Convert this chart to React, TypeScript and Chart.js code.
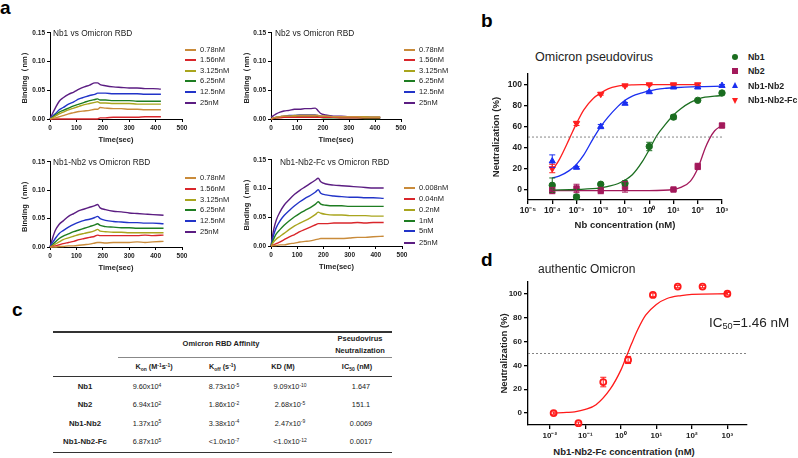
import React, { useEffect, useRef } from "react";
import { Chart, registerables } from "chart.js";

Chart.register(...registerables);

const FONT = "'Liberation Sans', Arial, Helvetica, sans-serif";
Chart.defaults.font.family = FONT;
Chart.defaults.color = "#222";

// ---------------- Panel a : sensorgrams ----------------
const T_TOP = [0, 10, 20, 35, 50, 70, 90, 110, 130, 150, 170, 180, 190, 210, 240, 270, 300, 330, 360, 390, 420];
const T_BOTTOM = [0, 10, 20, 35, 50, 70, 90, 110, 130, 150, 170, 180, 190, 210, 240, 270, 300, 330, 360, 390, 430];

const A_CONC = ["0.78nM", "1.56nM", "3.125nM", "6.25nM", "12.5nM", "25nM"];
const FC_CONC = ["0.008nM", "0.04nM", "0.2nM", "1nM", "5nM", "25nM"];
const A_COLORS = ["#c98b3a", "#d9262b", "#a9a51e", "#1e7d22", "#2234c8", "#5b1d82"];
const A_XTICKS = [0, 100, 200, 300, 400, 500];
const A_YTICKS = [0, 0.05, 0.1, 0.15];

const NB1_078 = [0, 0.001, 0.002, 0.004, 0.006, 0.009, 0.011, 0.013, 0.014, 0.015, 0.017, 0.017, 0.02, 0.019, 0.018, 0.018, 0.017, 0.017, 0.016, 0.016, 0.016];
const NB1_156 = [0, 0, 0, 0, 0, 0, 0, 0, 0, 0, 0, 0, 0.002, 0.002, 0.003, 0.003, 0.003, 0.003, 0.004, 0.004, 0.004];
const NB1_3125 = [0, 0.002, 0.005, 0.009, 0.012, 0.016, 0.019, 0.022, 0.025, 0.027, 0.029, 0.03, 0.028, 0.028, 0.027, 0.027, 0.027, 0.026, 0.026, 0.026, 0.026];
const NB1_625 = [0, 0.003, 0.007, 0.012, 0.015, 0.019, 0.023, 0.026, 0.029, 0.032, 0.034, 0.035, 0.033, 0.033, 0.032, 0.032, 0.032, 0.031, 0.031, 0.031, 0.031];
const NB1_125 = [0, 0.005, 0.009, 0.016, 0.02, 0.026, 0.03, 0.035, 0.038, 0.041, 0.043, 0.045, 0.045, 0.045, 0.044, 0.044, 0.044, 0.044, 0.043, 0.043, 0.043];
const NB1_25 = [0, 0.01, 0.019, 0.031, 0.037, 0.043, 0.047, 0.052, 0.056, 0.059, 0.063, 0.063, 0.06, 0.058, 0.056, 0.055, 0.054, 0.054, 0.053, 0.053, 0.052];

const NB2_078 = [0, 0.002, 0.003, 0.004, 0.005, 0.005, 0.005, 0.006, 0.006, 0.006, 0.006, 0.006, 0.005, 0.005, 0.004, 0.004, 0.004, 0.004, 0.003, 0.003, 0.003];
const NB2_156 = [0, 0.001, 0.002, 0.002, 0.003, 0.003, 0.003, 0.003, 0.003, 0.003, 0.003, 0.003, 0.003, 0.003, 0.003, 0.002, 0.002, 0.002, 0.002, 0.002, 0.002];
const NB2_3125 = [0, 0.002, 0.003, 0.004, 0.005, 0.005, 0.006, 0.006, 0.006, 0.006, 0.006, 0.006, 0.005, 0.005, 0.004, 0.004, 0.004, 0.004, 0.004, 0.003, 0.003];
const NB2_625 = [0, 0.001, 0.002, 0.003, 0.004, 0.004, 0.004, 0.005, 0.005, 0.005, 0.005, 0.004, 0.003, 0.002, 0.002, 0.002, 0.002, 0.002, 0.001, 0.001, 0.001];
const NB2_125 = [0, 0.002, 0.003, 0.004, 0.005, 0.006, 0.006, 0.007, 0.007, 0.007, 0.007, 0.006, 0.005, 0.004, 0.004, 0.003, 0.003, 0.003, 0.003, 0.002, 0.002];
const NB2_25 = [0.003, 0.006, 0.009, 0.012, 0.014, 0.015, 0.017, 0.017, 0.018, 0.018, 0.019, 0.015, 0.01, 0.007, 0.005, 0.005, 0.004, 0.004, 0.003, 0.003, 0.003];

const NB12_078 = [0, 0, 0, 0.001, 0.001, 0.002, 0.002, 0.003, 0.004, 0.005, 0.007, 0.008, 0.008, 0.007, 0.008, 0.008, 0.008, 0.009, 0.008, 0.009, 0.01];
const NB12_156 = [0, 0.001, 0.002, 0.004, 0.006, 0.008, 0.01, 0.013, 0.015, 0.017, 0.019, 0.021, 0.02, 0.02, 0.02, 0.02, 0.02, 0.02, 0.021, 0.02, 0.021];
const NB12_3125 = [0, 0.002, 0.005, 0.009, 0.013, 0.016, 0.019, 0.022, 0.024, 0.026, 0.029, 0.031, 0.028, 0.027, 0.026, 0.026, 0.025, 0.025, 0.025, 0.025, 0.025];
const NB12_625 = [0, 0.004, 0.009, 0.015, 0.019, 0.023, 0.027, 0.03, 0.033, 0.036, 0.039, 0.041, 0.038, 0.036, 0.035, 0.034, 0.034, 0.033, 0.033, 0.033, 0.033];
const NB12_125 = [0, 0.008, 0.015, 0.024, 0.029, 0.035, 0.04, 0.044, 0.047, 0.049, 0.052, 0.054, 0.05, 0.047, 0.045, 0.044, 0.043, 0.043, 0.042, 0.042, 0.041];
const NB12_25 = [0, 0.016, 0.029, 0.04, 0.046, 0.054, 0.059, 0.064, 0.067, 0.07, 0.073, 0.075, 0.069, 0.066, 0.063, 0.062, 0.06, 0.059, 0.058, 0.057, 0.056];

const FC_0008 = [0, 0.001, 0.001, 0.002, 0.002, 0.004, 0.005, 0.007, 0.008, 0.009, 0.011, 0.012, 0.013, 0.013, 0.013, 0.013, 0.014, 0.015, 0.015, 0.016, 0.017];
const FC_004 = [0, 0.002, 0.004, 0.007, 0.011, 0.016, 0.02, 0.025, 0.029, 0.033, 0.037, 0.039, 0.039, 0.039, 0.04, 0.04, 0.04, 0.041, 0.04, 0.041, 0.041];
const FC_02 = [0, 0.007, 0.012, 0.017, 0.022, 0.029, 0.035, 0.04, 0.044, 0.049, 0.055, 0.059, 0.057, 0.055, 0.054, 0.054, 0.053, 0.053, 0.053, 0.052, 0.052];
const FC_1 = [0, 0.012, 0.021, 0.029, 0.036, 0.044, 0.051, 0.057, 0.062, 0.067, 0.073, 0.077, 0.073, 0.071, 0.07, 0.07, 0.069, 0.069, 0.069, 0.069, 0.069];
const FC_5 = [0, 0.019, 0.032, 0.044, 0.053, 0.062, 0.07, 0.077, 0.083, 0.088, 0.094, 0.098, 0.092, 0.089, 0.087, 0.086, 0.085, 0.085, 0.084, 0.084, 0.083];
const FC_25 = [0, 0.028, 0.045, 0.06, 0.071, 0.081, 0.09, 0.097, 0.103, 0.109, 0.115, 0.118, 0.112, 0.108, 0.106, 0.105, 0.104, 0.103, 0.102, 0.101, 0.101];

// ---------------- Panel b : pseudovirus neutralization ----------------
const B_NAMES = ["Nb1", "Nb2", "Nb1-Nb2", "Nb1-Nb2-Fc"];
const B_COLORS = ["#1b6e20", "#a3195b", "#1a2ff0", "#ff1f1f"];
const B_XMIN = 1e-5;
const B_XMAX = 1e3;
const B_XTICKS = [1e-5, 1e-4, 1e-3, 1e-2, 1e-1, 1, 10, 100, 1000];
const B_XTICK_LABELS = ["10⁻⁵", "10⁻⁴", "10⁻³", "10⁻²", "10⁻¹", "10⁰", "10¹", "10²", "10³"];
const NEUT_YTICKS = [0, 20, 40, 60, 80, 100];
const THRESHOLD = 50;

const NB1_X = [1e-4, 1e-3, 1e-2, 1e-1, 1, 10, 100, 1000];
const NB1_Y = [4, -7, 5, 6, 41, 69, 85, 92];
const NB1_ERR = [7, 2, 1, 2, 4, 2, 1, 1];
const NB2_X = [1e-4, 1e-3, 1e-2, 1e-1, 10, 100, 1000];
const NB2_Y = [-1, 1, -1, 2.5, 0, 22, 61];
const NB2_ERR = [3, 4, 3, 5, 1, 3, 2];
const NB12_X = [1e-4, 1e-3, 1e-2, 1e-1, 1, 10, 100, 1000];
const NB12_Y = [27, 21, 60, 82, 93, 97.5, 97.5, 99];
const NB12_ERR = [6, 1, 2, 1, 1, 1, 1, 1];
const FC_X = [1e-4, 1e-3, 1e-2, 1e-1, 1, 10, 100];
const FC_Y = [20, 63, 91, 99, 100, 100, 100];
const FC_ERR = [4, 2, 1, 1, 1, 1, 1];

const FIT_NB1_X = [1e-4, 1e-3, 1e-2, 2e-2, 5e-2, 0.1, 0.2, 0.5, 1, 2, 5, 10, 20, 50, 100, 200, 500, 1000];
const FIT_NB1_Y = [-0.5, 0, 1.5, 3, 5.5, 9, 14, 26, 38, 51, 63, 71, 77, 83, 86, 88, 89, 89.5];
const FIT_NB2_X = [1e-4, 1e-2, 1, 10, 20, 50, 100, 150, 200, 300, 500, 1000];
const FIT_NB2_Y = [-1, -1, -1, 0, 2, 8, 20, 31, 39, 48, 56, 61];
const FIT_NB12_X = [1e-4, 2e-4, 5e-4, 1e-3, 2e-3, 5e-3, 1e-2, 2e-2, 5e-2, 0.1, 0.2, 0.5, 1, 2, 5, 10, 100, 1000];
const FIT_NB12_Y = [11, 13, 18, 24, 33, 49, 60, 69, 79, 85, 89, 92, 94, 95.5, 96.5, 97, 98, 98.5];
const FIT_FC_X = [1e-4, 2e-4, 5e-4, 1e-3, 2e-3, 5e-3, 1e-2, 2e-2, 5e-2, 0.1, 0.2, 0.5, 1, 10, 100];
const FIT_FC_Y = [18, 29, 48, 63, 76, 87, 92, 96, 98.5, 99.3, 99.7, 100, 100, 100, 100];

// ---------------- Panel c : table ----------------
const TABLE_LABELS = ["Nb1", "Nb2", "Nb1-Nb2", "Nb1-Nb2-Fc"];
const KON_VALUES = [["9.60x10", "4"], ["6.94x10", "2"], ["1.37x10", "5"], ["6.87x10", "5"]];
const KOFF_VALUES = [["8.73x10", "-5"], ["1.86x10", "-2"], ["3.38x10", "-4"], ["<1.0x10", "-7"]];
const KD_VALUES = [["9.09x10", "-10"], ["2.68x10", "-5"], ["2.47x10", "-9"], ["<1.0x10", "-12"]];
const IC50_VALUES = ["1.647", "151.1", "0.0069", "0.0017"];

// ---------------- Panel d : authentic Omicron ----------------
const D_COLOR = "#ff1a1a";
const D_XMIN = 0.00243;
const D_XMAX = 3390;
const D_XTICKS = [1e-2, 1e-1, 1, 10, 100, 1000];
const D_XTICK_LABELS = ["10⁻²", "10⁻¹", "10⁰", "10¹", "10²", "10³"];
const D_X = [0.0128, 0.064, 0.32, 1.6, 8, 40, 200, 1000];
const D_Y = [0, -8.5, 26, 44.5, 99, 106, 106, 100];
const D_ERR = [1, 1, 4, 3, 1.5, 1, 1, 1];
const FIT_D_X = [0.0128, 0.03, 0.05, 0.1, 0.2, 0.5, 1, 1.46, 2, 3, 5, 10, 20, 50, 100, 1000];
const FIT_D_Y = [0, 0.5, 1, 3, 7, 20, 36, 48, 58, 70, 82, 91, 96, 98.5, 99.5, 100];

// ---------------- helpers ----------------
const pts = (xs: number[], ys: number[]) => ys.map((y, i) => ({ x: xs[i], y }));

const errorBarPlugin = {
  id: "errorBars",
  afterDatasetsDraw(chart: any) {
    const ctx = chart.ctx;
    const xs = chart.scales.x;
    const ys = chart.scales.y;
    chart.data.datasets.forEach((ds: any) => {
      if (!ds.errors) return;
      ds.data.forEach((p: any, j: number) => {
        const e = ds.errors[j];
        if (!e) return;
        const px = xs.getPixelForValue(p.x);
        const y1 = ys.getPixelForValue(p.y + e);
        const y2 = ys.getPixelForValue(p.y - e);
        ctx.save();
        ctx.strokeStyle = ds.borderColor;
        ctx.lineWidth = 1;
        ctx.beginPath();
        ctx.moveTo(px, y1);
        ctx.lineTo(px, y2);
        ctx.moveTo(px - 3, y1);
        ctx.lineTo(px + 3, y1);
        ctx.moveTo(px - 3, y2);
        ctx.lineTo(px + 3, y2);
        ctx.stroke();
        ctx.restore();
      });
    });
  },
};

type Box = { left: number; top: number; width: number; height: number };
function makeBox(l: number, t: number, r: number, b: number, yw: number, xh: number, padT: number, padR: number): Box {
  return { left: l - yw, top: t - padT, width: r + padR - (l - yw), height: b + xh - (t - padT) };
}

function axisBase(lineWidth: number, tickLen: number, fontSize: number) {
  return {
    grid: { display: true, drawOnChartArea: false, drawTicks: true, tickLength: tickLen, color: "#000", lineWidth },
    border: { display: true, color: "#000", width: lineWidth },
    ticks: { font: { size: fontSize, weight: "bold" }, color: "#222", padding: 2, maxRotation: 0, autoSkip: false },
  };
}

function sensorConfig(times: number[], series: number[][], yw: number, xh: number, padT: number, padR: number) {
  const xb = axisBase(1, 3, 6.5);
  const yb = axisBase(1, 3, 6.5);
  return {
    type: "line",
    data: {
      datasets: series.map((s, i) => ({
        data: pts(times, s),
        borderColor: A_COLORS[i],
        borderWidth: 1.4,
        pointRadius: 0,
        cubicInterpolationMode: "monotone",
        fill: false,
        clip: false,
      })),
    },
    options: {
      animation: false,
      responsive: false,
      events: [],
      layout: { padding: { left: 0, top: padT, right: padR, bottom: 0 } },
      plugins: { legend: { display: false }, tooltip: { enabled: false } },
      scales: {
        x: {
          type: "linear",
          min: 0,
          max: 500,
          ...xb,
          afterBuildTicks: (s: any) => { s.ticks = A_XTICKS.map((v) => ({ value: v })); },
          title: { display: true, text: "Time(sec)", font: { size: 7.5, weight: "bold" }, color: "#222", padding: 0 },
          afterFit: (s: any) => { s.height = xh; },
        },
        y: {
          type: "linear",
          min: 0,
          max: 0.15,
          ...yb,
          ticks: { ...yb.ticks, callback: (v: any) => Number(v).toFixed(2) },
          afterBuildTicks: (s: any) => { s.ticks = A_YTICKS.map((v) => ({ value: v })); },
          title: { display: true, text: "Binding（nm）", font: { size: 7.5, weight: "bold" }, color: "#222", padding: 0 },
          afterFit: (s: any) => { s.width = yw; },
        },
      },
    },
    plugins: [],
  };
}

function fitDs(xs: number[], ys: number[], color: string) {
  return { data: pts(xs, ys), borderColor: color, borderWidth: 1.3, pointRadius: 0, cubicInterpolationMode: "monotone", fill: false, clip: false };
}
function markerDs(xs: number[], ys: number[], errs: number[], color: string, style: string, rotation = 0, radius = 3.2) {
  return {
    data: pts(xs, ys),
    errors: errs,
    showLine: false,
    borderColor: color,
    backgroundColor: color,
    pointStyle: style,
    pointRotation: rotation,
    pointRadius: radius,
    pointBorderWidth: 1,
    clip: false,
  };
}

function neutYAxis(yw: number, fontSize: number, titleSize: number) {
  const yb = axisBase(1.3, 4, fontSize);
  return {
    type: "linear",
    min: -10,
    max: 110,
    ...yb,
    afterBuildTicks: (s: any) => { s.ticks = NEUT_YTICKS.map((v) => ({ value: v })); },
    title: { display: true, text: "Neutralization (%)", font: { size: titleSize, weight: "bold" }, color: "#222", padding: 0 },
    afterFit: (s: any) => { s.width = yw; },
  };
}

function panelBConfig() {
  const xb = axisBase(1.3, 4, 8.5);
  return {
    type: "line",
    data: {
      datasets: [
        { data: [{ x: B_XMIN, y: THRESHOLD }, { x: B_XMAX, y: THRESHOLD }], borderColor: "#666", borderWidth: 0.8, borderDash: [2, 2], pointRadius: 0, fill: false },
        fitDs(FIT_NB1_X, FIT_NB1_Y, B_COLORS[0]),
        fitDs(FIT_NB2_X, FIT_NB2_Y, B_COLORS[1]),
        fitDs(FIT_NB12_X, FIT_NB12_Y, B_COLORS[2]),
        fitDs(FIT_FC_X, FIT_FC_Y, B_COLORS[3]),
        markerDs(NB1_X, NB1_Y, NB1_ERR, B_COLORS[0], "circle"),
        markerDs(NB2_X, NB2_Y, NB2_ERR, B_COLORS[1], "rect", 0, 3.8),
        markerDs(NB12_X, NB12_Y, NB12_ERR, B_COLORS[2], "triangle", 0, 3.6),
        markerDs(FC_X, FC_Y, FC_ERR, B_COLORS[3], "triangle", 180, 3.6),
      ],
    },
    options: {
      animation: false,
      responsive: false,
      events: [],
      layout: { padding: { left: 0, top: 5, right: 10, bottom: 0 } },
      plugins: { legend: { display: false }, tooltip: { enabled: false } },
      scales: {
        x: {
          type: "logarithmic",
          min: B_XMIN,
          max: B_XMAX,
          ...xb,
          ticks: { ...xb.ticks, callback: (_v: any, i: number) => B_XTICK_LABELS[i] },
          afterBuildTicks: (s: any) => { s.ticks = B_XTICKS.map((v) => ({ value: v })); },
          title: { display: true, text: "Nb concentration (nM)", font: { size: 9.5, weight: "bold" }, color: "#222", padding: 0 },
          afterFit: (s: any) => { s.height = 31; },
        },
        y: neutYAxis(37, 8.5, 9.5),
      },
    },
    plugins: [errorBarPlugin],
  };
}

function panelDConfig() {
  const xb = axisBase(1.3, 4, 8);
  return {
    type: "line",
    data: {
      datasets: [
        { data: [{ x: D_XMIN, y: THRESHOLD }, { x: D_XMAX, y: THRESHOLD }], borderColor: "#666", borderWidth: 0.8, borderDash: [2, 2], pointRadius: 0, fill: false },
        fitDs(FIT_D_X, FIT_D_Y, D_COLOR),
        {
          data: pts(D_X, D_Y),
          errors: D_ERR,
          showLine: false,
          borderColor: D_COLOR,
          backgroundColor: "#fff",
          pointStyle: "circle",
          pointRadius: 3,
          pointBorderWidth: 1.8,
          clip: false,
        },
      ],
    },
    options: {
      animation: false,
      responsive: false,
      events: [],
      layout: { padding: { left: 0, top: 5, right: 4, bottom: 0 } },
      plugins: { legend: { display: false }, tooltip: { enabled: false } },
      scales: {
        x: {
          type: "logarithmic",
          min: D_XMIN,
          max: D_XMAX,
          ...xb,
          ticks: { ...xb.ticks, callback: (_v: any, i: number) => D_XTICK_LABELS[i] },
          afterBuildTicks: (s: any) => { s.ticks = D_XTICKS.map((v) => ({ value: v })); },
          afterFit: (s: any) => { s.height = 20; },
        },
        y: neutYAxis(29, 8, 9.5),
      },
    },
    plugins: [errorBarPlugin],
  };
}

function ChartBox({ box, make }: { box: Box; make: () => any }) {
  const ref = useRef<HTMLCanvasElement | null>(null);
  useEffect(() => {
    if (!ref.current) return;
    const chart = new Chart(ref.current, make());
    return () => chart.destroy();
  }, []);
  return (
    <canvas
      ref={ref}
      width={box.width}
      height={box.height}
      style={{ position: "absolute", left: box.left, top: box.top, width: box.width, height: box.height }}
    />
  );
}

function T({ x, y, size, bold = false, align = "left", color = "#222", children }: any) {
  const transform = align === "center" ? "translate(-50%, -50%)" : align === "right" ? "translate(-100%, -50%)" : "translateY(-50%)";
  return (
    <div style={{ position: "absolute", left: x, top: y, fontSize: size, fontWeight: bold ? 700 : 400, lineHeight: 1, whiteSpace: "nowrap", transform, color, fontFamily: FONT }}>
      {children}
    </div>
  );
}

const Sup = ({ children }: any) => <span style={{ fontSize: "0.68em", position: "relative", top: "-0.45em" }}>{children}</span>;
const Sub = ({ children }: any) => <span style={{ fontSize: "0.68em", position: "relative", top: "0.25em" }}>{children}</span>;

function HLine({ x1, x2, y, w, color }: any) {
  return <div style={{ position: "absolute", left: x1, top: y - w / 2, width: x2 - x1, height: w, background: color }} />;
}

function SensorLegend({ x, rows, labels }: { x: number; rows: number[]; labels: string[] }) {
  return (
    <>
      {labels.map((lab, i) => (
        <React.Fragment key={lab}>
          <div style={{ position: "absolute", left: x, top: Math.round(rows[i]) - 1, width: 11, height: 2, background: A_COLORS[i] }} />
          <T x={x + 15} y={rows[i]} size={7.5}>{lab}</T>
        </React.Fragment>
      ))}
    </>
  );
}

function Marker({ kind, color, x, y }: any) {
  const base: any = { position: "absolute" };
  if (kind === 0) return <div style={{ ...base, left: x - 3, top: y - 3, width: 6, height: 6, borderRadius: "50%", background: color }} />;
  if (kind === 1) return <div style={{ ...base, left: x - 3, top: y - 3, width: 6, height: 6, background: color }} />;
  if (kind === 2)
    return <div style={{ ...base, left: x - 3.5, top: y - 3.5, width: 0, height: 0, borderLeft: "3.5px solid transparent", borderRight: "3.5px solid transparent", borderBottom: `6px solid ${color}` }} />;
  return <div style={{ ...base, left: x - 3.5, top: y - 2.5, width: 0, height: 0, borderLeft: "3.5px solid transparent", borderRight: "3.5px solid transparent", borderTop: `6px solid ${color}` }} />;
}

const TL_BOX = makeBox(50, 32, 182, 119, 30, 25, 5, 10);
const TR_BOX = makeBox(271, 32, 401, 119, 29, 25, 5, 10);
const BL_BOX = makeBox(50, 161, 182, 247, 30, 25, 5, 10);
const BR_BOX = makeBox(271, 159, 402, 246, 29, 25, 5, 10);
const B_BOX = makeBox(528, 72, 722, 200, 37, 31, 5, 10);
const D_BOX = makeBox(528, 280, 748, 425, 29, 20, 5, 4);

const TOP_ROWS = [49.5, 60.2, 70.8, 81.4, 92, 102.6];
const BL_ROWS = [178, 189, 199.7, 210.3, 221, 232.3];
const BR_ROWS = [188.3, 199.3, 210, 220.5, 231.3, 242.5];
const B_LEGEND_ROWS = [57, 71, 85.5, 100];
const TABLE_ROW_Y = [387, 405, 423.5, 442];

export default function App() {
  return (
    <div style={{ position: "fixed", left: 0, top: 0, width: 798, height: 458, background: "#fff", overflow: "hidden", fontFamily: FONT, color: "#222" }}>
      {/* panel letters */}
      <T x={0} y={6.5} size={19} bold color="#000">a</T>
      <T x={481} y={20} size={19} bold color="#000">b</T>
      <T x={12} y={308.5} size={19} bold color="#000">c</T>
      <T x={481} y={258.5} size={19} bold color="#000">d</T>

      {/* panel a */}
      <ChartBox box={TL_BOX} make={() => sensorConfig(T_TOP, [NB1_078, NB1_156, NB1_3125, NB1_625, NB1_125, NB1_25], 30, 25, 5, 10)} />
      <ChartBox box={TR_BOX} make={() => sensorConfig(T_TOP, [NB2_078, NB2_156, NB2_3125, NB2_625, NB2_125, NB2_25], 29, 25, 5, 10)} />
      <ChartBox box={BL_BOX} make={() => sensorConfig(T_BOTTOM, [NB12_078, NB12_156, NB12_3125, NB12_625, NB12_125, NB12_25], 30, 25, 5, 10)} />
      <ChartBox box={BR_BOX} make={() => sensorConfig(T_BOTTOM, [FC_0008, FC_004, FC_02, FC_1, FC_5, FC_25], 29, 25, 5, 10)} />
      <T x={53} y={33} size={8.3}>Nb1 vs Omicron RBD</T>
      <T x={275} y={33} size={8.3}>Nb2 vs Omicron RBD</T>
      <T x={53} y={161.5} size={8.3}>Nb1-Nb2 vs Omicron RBD</T>
      <T x={280} y={162} size={8.3}>Nb1-Nb2-Fc vs Omicron RBD</T>
      <SensorLegend x={185} rows={TOP_ROWS} labels={A_CONC} />
      <SensorLegend x={404} rows={TOP_ROWS} labels={A_CONC} />
      <SensorLegend x={185} rows={BL_ROWS} labels={A_CONC} />
      <SensorLegend x={404} rows={BR_ROWS} labels={FC_CONC} />

      {/* panel b */}
      <ChartBox box={B_BOX} make={panelBConfig} />
      <T x={535} y={57} size={12.5}>Omicron pseudovirus</T>
      {B_NAMES.map((n, i) => (
        <React.Fragment key={n}>
          <Marker kind={i} color={B_COLORS[i]} x={735} y={B_LEGEND_ROWS[i]} />
          <T x={748} y={B_LEGEND_ROWS[i]} size={8.8} bold>{n}</T>
        </React.Fragment>
      ))}

      {/* panel c table */}
      <HLine x1={53} x2={392} y={332} w={1.5} color="#333" />
      <HLine x1={118} x2={392} y={357.3} w={1} color="#888" />
      <HLine x1={53} x2={392} y={376} w={1} color="#333" />
      <HLine x1={53} x2={392} y={452.3} w={1.5} color="#333" />
      <T x={221} y={344.3} size={7.5} bold align="center">Omicron RBD Affinity</T>
      <T x={360} y={339} size={7.5} bold align="center">Pseudovirus</T>
      <T x={360} y={350.7} size={7.5} bold align="center">Neutralization</T>
      <T x={154} y={367.3} size={7.3} bold align="center">K<Sub>on</Sub> (M<Sup>-1</Sup>s<Sup>-1</Sup>)</T>
      <T x={222.5} y={367.3} size={7.3} bold align="center">K<Sub>off</Sub> (s<Sup>-1</Sup>)</T>
      <T x={283} y={367.3} size={7.3} bold align="center">KD (M)</T>
      <T x={357} y={367.3} size={7.3} bold align="center">IC<Sub>50</Sub> (nM)</T>
      {TABLE_LABELS.map((lab, i) => (
        <React.Fragment key={lab}>
          <T x={85} y={TABLE_ROW_Y[i]} size={7.8} bold align="center">{lab}</T>
          <T x={147} y={TABLE_ROW_Y[i]} size={7.3} align="center">{KON_VALUES[i][0]}<Sup>{KON_VALUES[i][1]}</Sup></T>
          <T x={224} y={TABLE_ROW_Y[i]} size={7.3} align="center">{KOFF_VALUES[i][0]}<Sup>{KOFF_VALUES[i][1]}</Sup></T>
          <T x={290} y={TABLE_ROW_Y[i]} size={7.3} align="center">{KD_VALUES[i][0]}<Sup>{KD_VALUES[i][1]}</Sup></T>
          <T x={361} y={TABLE_ROW_Y[i]} size={7.3} align="center">{IC50_VALUES[i]}</T>
        </React.Fragment>
      ))}

      {/* panel d */}
      <ChartBox box={D_BOX} make={panelDConfig} />
      <T x={538} y={269} size={12}>authentic Omicron</T>
      <T x={624} y={451.5} size={9.5} bold align="center">Nb1-Nb2-Fc concentration (nM)</T>
      <T x={709} y={323} size={13.5}>IC<Sub>50</Sub>=1.46 nM</T>
    </div>
  );
}
